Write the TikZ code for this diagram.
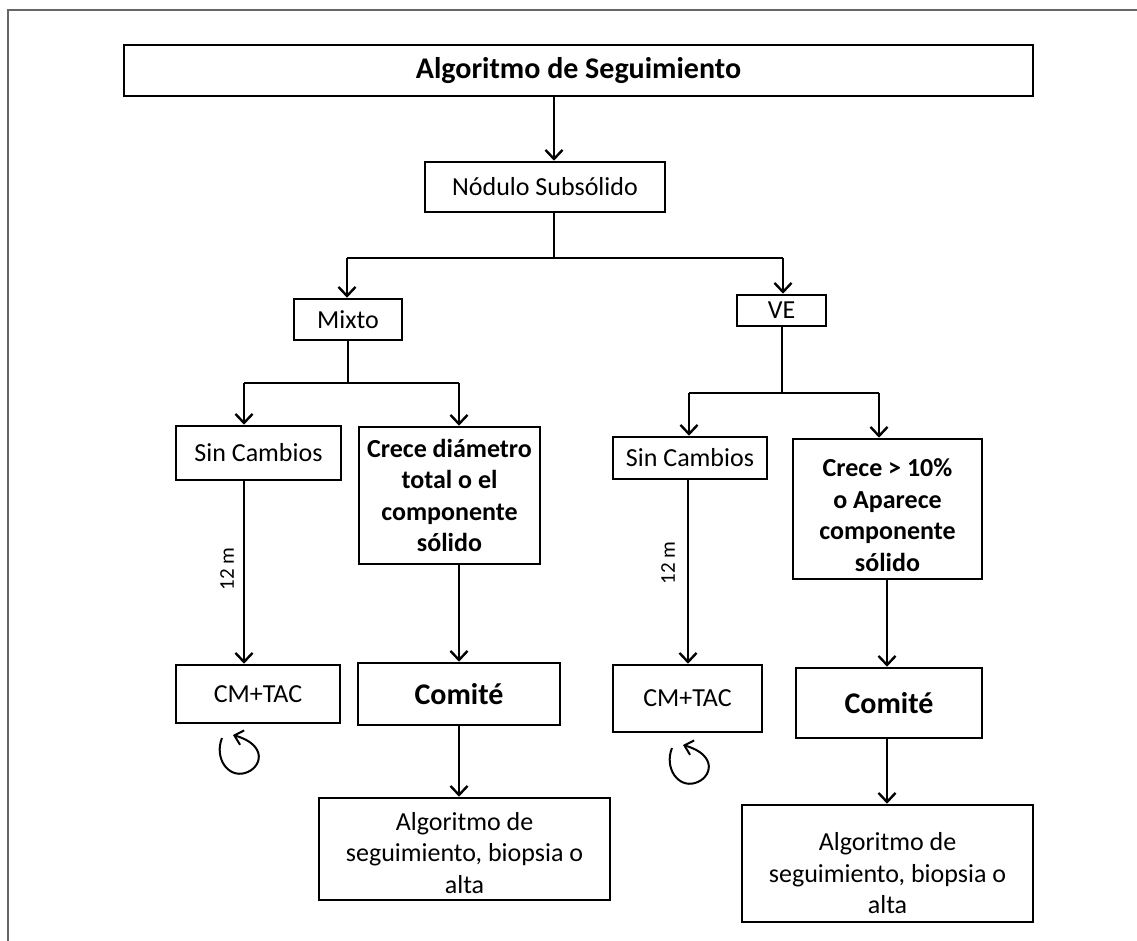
\documentclass[tikz,border=0pt]{standalone}
\usepackage{fontspec}
\setmainfont{Carlito}
\usetikzlibrary{arrows.meta}
\begin{document}
\begin{tikzpicture}[x=1pt,y=-1pt,
  box/.style={draw, line width=2.6pt, inner sep=0pt, align=center, font=\fontsize{26}{31.5}\selectfont},
  bbox/.style={box, font=\fontsize{26}{31.5}\selectfont\bfseries},
  hbox/.style={box, font=\fontsize{30}{36}\selectfont\bfseries},
  txt/.style={inner sep=0pt, align=center, font=\fontsize{26}{31.5}\selectfont},
  btxt/.style={txt, font=\fontsize{26}{31.5}\selectfont\bfseries},
  conn/.style={line width=2.4pt, -{Straight Barb[length=9pt,width=17pt]}},
  plain/.style={line width=2.4pt},
  loop/.style={line width=2pt, -{Straight Barb[length=8pt,width=15pt]}},
  lab/.style={rotate=90, font=\fontsize{21}{24}\selectfont}]
\useasboundingbox (0,0) rectangle (1137,940);
\draw[line width=2pt, black!60] (8,960) -- (8,10) -- (1160,10);

\node[hbox, minimum width=909pt, minimum height=51pt] (title) at (578.5,70.5) {Algoritmo de Seguimiento};
\node[box, minimum width=240pt, minimum height=50pt] (nod) at (545,187) {Nódulo Subsólido};
\node[box, minimum width=108pt, minimum height=41pt] (mixto) at (348,319.5) {Mixto};
\node[box, minimum width=89pt, minimum height=31pt] (ve) at (781.5,310.5) {VE};

\node[box, minimum width=165pt, minimum height=54pt] (scL) at (258.5,453) {Sin Cambios};
\node[bbox, minimum width=181pt, minimum height=137pt] (crL) at (449.5,495.5) {Crece diámetro\\total o el\\componente\\sólido};
\node[box, minimum width=164pt, minimum height=58pt] (cmL) at (258,694) {CM+TAC};
\node[hbox, minimum width=202pt, minimum height=62pt] (coL) at (459,694) {Comité};
\node[box, minimum width=291pt, minimum height=102pt] (alL) at (464.5,849) {};
\node[txt] (alLt) at ([yshift=-4pt]alL.center) {Algoritmo de\\seguimiento, biopsia o\\alta};

\node[box, minimum width=154pt, minimum height=42pt] (scR) at (690,458) {Sin Cambios};
\node[box, minimum width=189pt, minimum height=140pt] (crR) at (887.5,509) {};
\node[btxt] (crRt) at ([yshift=-6pt]crR.center) {Crece > 10\%\\o Aparece\\componente\\sólido};
\node[box, minimum width=149pt, minimum height=67pt] (cmR) at (687.5,698.5) {CM+TAC};
\node[hbox, minimum width=186pt, minimum height=70pt] (coR) at (889,703) {Comité};
\node[box, minimum width=291pt, minimum height=117pt] (alR) at (887.5,863.5) {};
\node[txt] (alRt) at ([yshift=-10pt]alR.center) {Algoritmo de\\seguimiento, biopsia o\\alta};

% junction coordinates
\coordinate (j0) at (554,258);
\coordinate (j0l) at (347,258);
\coordinate (j0r) at (783,258);
\coordinate (j1) at (348,383);
\coordinate (j1l) at (244,383);
\coordinate (j1r) at (459,383);
\coordinate (j2) at (782,393);
\coordinate (j2l) at (689,393);
\coordinate (j2r) at (879,393);
\coordinate (xL) at (244,0);
\coordinate (xcL) at (459,0);
\coordinate (xR) at (688,0);
\coordinate (xcR) at (887,0);

\draw[conn] (title.south -| j0) -- (nod.north -| j0);
\draw[plain] (nod.south -| j0) -- (j0);
\draw[plain] (j0l) -- (j0r);
\draw[conn] (j0l) -- (mixto.north -| j0l);
\draw[conn] (j0r) -- (ve.north -| j0r);

\draw[plain] (mixto.south -| j1) -- (j1);
\draw[plain] (j1l) -- (j1r);
\draw[conn] (j1l) -- (scL.north -| j1l);
\draw[conn] (j1r) -- (crL.north -| j1r);

\draw[plain] (ve.south -| j2) -- (j2);
\draw[plain] (j2l) -- (j2r);
\draw[conn] (j2l) -- (scR.north -| j2l);
\draw[conn] (j2r) -- (crR.north -| j2r);

\draw[conn] (scL.south -| xL) -- node[pos=0.48, xshift=-17pt, lab] {12 m} (cmL.north -| xL);
\draw[conn] (crL.south -| xcL) -- (coL.north -| xcL);
\draw[conn] (coL.south -| xcL) -- (alL.north -| xcL);

\draw[conn] (scR.south -| xR) -- node[pos=0.45, xshift=-20pt, lab] {12 m} (cmR.north -| xR);
\draw[conn] (crR.south -| xcR) -- (coR.north -| xcR);
\draw[conn] (coR.south -| xcR) -- (alR.north -| xcR);

% loop arrows
\draw[loop] (222,738) .. controls (214,758) and (228,778) .. (245,773) .. controls (262,768) and (268,745) .. (233,735);
\draw[loop] (672,748) .. controls (664,768) and (678,788) .. (695,783) .. controls (712,778) and (718,755) .. (683,745);
\end{tikzpicture}
\end{document}
